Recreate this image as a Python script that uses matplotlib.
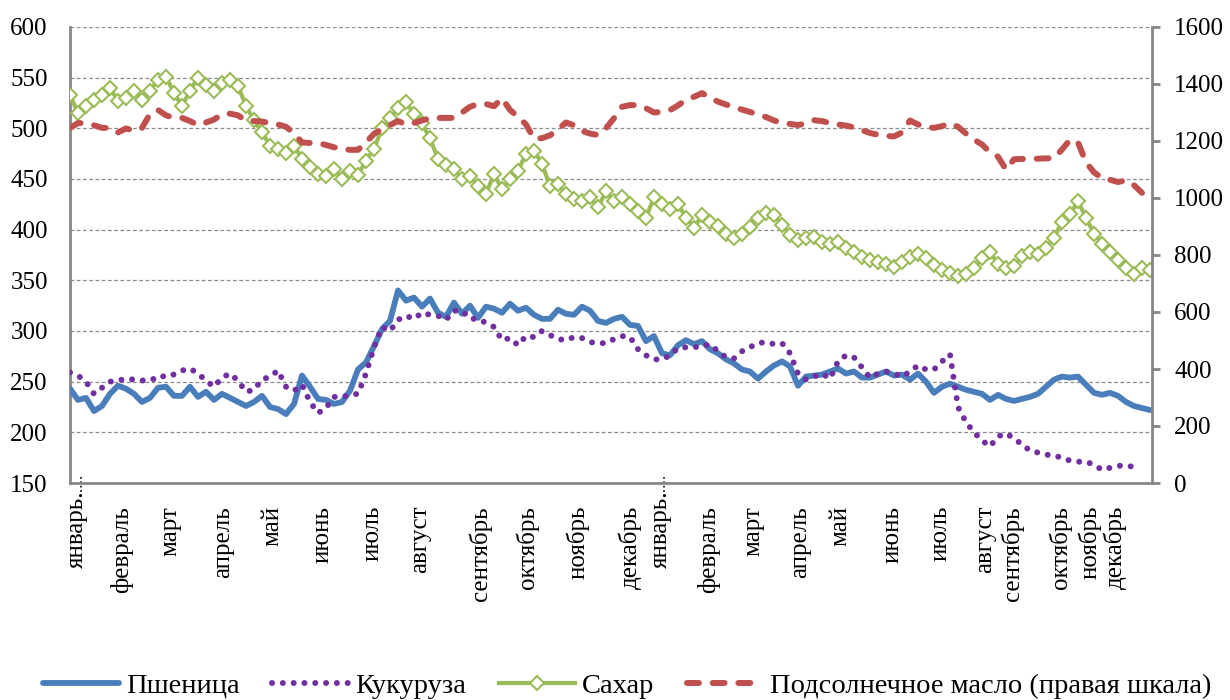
import numpy as np
import matplotlib
matplotlib.use("Agg")
import matplotlib.pyplot as plt

plt.rcParams["font.family"] = ["Liberation Serif", "DejaVu Serif"]

# month labels and the observation index where each one sits
months = ["январь.", "февраль", "март", "апрель", "май", "июнь", "июль", "август",
          "сентябрь", "октябрь", "ноябрь", "декабрь",
          "январь.", "февраль", "март", "апрель", "май", "июнь", "июль", "август",
          "сентябрь", "октябрь", "ноябрь", "декабрь"]
month_pos = [0.9, 6.5, 12.5, 19.1, 25.3, 31.6, 37.8, 43.8, 51.3, 57.1, 63.5, 70.0,
             73.8, 79.8, 85.4, 91.3, 96.3, 102.8, 108.8, 114.4, 117.8, 123.8, 127.5, 130.6]

# left scale
wheat = [243, 232, 234, 221, 226, 238, 246, 243, 238, 230,
         234, 244, 245, 236, 236, 245, 235, 240, 232, 238,
         234, 230, 226, 230, 236, 225, 223, 218, 228, 256,
         245, 233, 232, 228, 230, 241, 262, 269, 285, 302,
         310, 340, 330, 333, 324, 332, 318, 314, 328, 317,
         325, 313, 324, 322, 318, 327, 320, 323, 316, 312,
         312, 321, 317, 316, 324, 320, 310, 308, 312, 314,
         306, 305, 290, 295, 278, 276, 286, 291, 287, 290,
         282, 278, 272, 268, 262, 260, 253, 260, 266, 270,
         265, 246, 255, 256, 257, 260, 263, 258, 260, 254,
         254, 257, 260, 256, 257, 252, 258, 250, 239, 245,
         248, 245, 242, 240, 238, 232, 237, 233, 231, 233,
         235, 238, 245, 252, 255, 254, 255, 247, 239, 237,
         239, 236, 230, 226, 224, 222]

corn = [259, 256, 250, 238, 244, 250, 251, 253, 252, 251,
        253, 252, 257, 257, 261, 263, 258, 251, 245, 254,
        258, 251, 240, 242, 252, 255, 261, 245, 241, 247,
        230, 219, 224, 235, 235, 237, 238, 258, 284, 304,
        300, 311, 315, 312, 318, 316, 315, 311, 320, 320,
        312, 312, 308, 304, 291, 293, 286, 295, 294, 300,
        296, 292, 291, 294, 293, 289, 288, 288, 292, 295,
        294, 282, 276, 272, 272, 276, 283, 284, 284, 285,
        287, 280, 274, 273, 280, 284, 288, 289, 287, 288,
        278, 258, 252, 255, 258, 253, 270, 276, 274, 264,
        254, 258, 260, 258, 255, 260, 266, 262, 262, 270,
        277, 225, 210, 200, 192, 186, 196, 199, 194, 188,
        182, 180, 178, 177, 175, 172, 171, 171, 168, 163,
        165, 167, 167, 166]

sugar = [533, 515, 522, 528, 533, 540, 527, 530, 537, 528,
         537, 548, 551, 535, 522, 537, 550, 543, 537, 545,
         548, 542, 522, 508, 496, 483, 480, 476, 483, 470,
         462, 455, 453, 460, 450, 458, 454, 468, 480, 500,
         510, 520, 526, 514, 505, 490, 470, 464, 460, 450,
         453, 443, 435, 455, 440, 450, 458, 475, 478, 465,
         443, 445, 435, 430, 428, 432, 422, 438, 428, 432,
         425, 418, 412, 432, 425, 420, 425, 412, 402, 414,
         408, 404, 396, 392, 396, 403, 412, 416, 414, 405,
         395, 390, 392, 393, 388, 386, 388, 382, 378, 373,
         370, 368, 366, 363, 368, 373, 376, 372, 365, 360,
         357, 354, 356, 362, 372, 378, 366, 362, 364, 374,
         378, 376, 382, 392, 408, 415, 428, 412, 396, 386,
         378, 370, 362, 356, 362, 360]

# right scale
sunflower_oil = [1246, 1263, 1262, 1255, 1246, 1246, 1230, 1244, 1236, 1246,
                 1295, 1309, 1290, 1281, 1281, 1270, 1256, 1265, 1275, 1294,
                 1296, 1290, 1271, 1270, 1268, 1263, 1258, 1250, 1226, 1195,
                 1193, 1193, 1186, 1178, 1172, 1169, 1169, 1195, 1225, 1242,
                 1256, 1270, 1258, 1263, 1272, 1280, 1281, 1281, 1281, 1300,
                 1320, 1330, 1330, 1322, 1350, 1309, 1285, 1258, 1208, 1210,
                 1220, 1240, 1265, 1255, 1235, 1226, 1221, 1245, 1280, 1320,
                 1326, 1326, 1315, 1300, 1302, 1308, 1325, 1344, 1355, 1368,
                 1352, 1338, 1328, 1319, 1310, 1302, 1292, 1284, 1272, 1263,
                 1260, 1256, 1262, 1273, 1270, 1263, 1258, 1254, 1248, 1238,
                 1228, 1222, 1218, 1216, 1230, 1272, 1258, 1248, 1246, 1252,
                 1262, 1250, 1226, 1205, 1188, 1160, 1145, 1100, 1136, 1137,
                 1137, 1138, 1139, 1140, 1170, 1204, 1195, 1125, 1090, 1070,
                 1064, 1056, 1062, 1045, 1018]

series_names = ["Пшеница", "Кукуруза", "Сахар", "Подсолнечное масло (правая шкала)"]

BLUE = "#4A7EBB"
PURPLE = "#7030A0"
GREEN = "#9BBB59"
RED = "#C0504D"
AXIS_GREY = "#868686"

fig = plt.figure(figsize=(12.3, 7), dpi=100)
ax = fig.add_axes([70 / 1230, 217 / 700, 1082 / 1230, 456 / 700])
ax2 = ax.twinx()

l_wheat, = ax.plot(np.arange(len(wheat)), wheat, color=BLUE, lw=4.2,
                   solid_capstyle="round", solid_joinstyle="round",
                   label=series_names[0], zorder=3)
l_corn, = ax.plot(np.arange(len(corn)), corn, color=PURPLE, lw=4.3,
                  linestyle=(0, (0.01, 1.8)), dash_capstyle="round",
                  label=series_names[1], zorder=3)
l_sugar, = ax.plot(np.arange(len(sugar)), sugar, color=GREEN, lw=3,
                   marker="D", ms=7.5, mfc="white", mec=GREEN, mew=1.5,
                   label=series_names[2], zorder=4)
l_oil, = ax2.plot(np.arange(len(sunflower_oil)), sunflower_oil, color=RED, lw=4.3,
                  linestyle=(0, (2, 2.3)), dash_capstyle="round",
                  label=series_names[3])

ax.set_xlim(0, 135.25)
ax.set_ylim(150, 600)
ax.set_yticks(np.arange(150, 601, 50))
ax2.set_ylim(0, 1600)
ax2.set_yticks(np.arange(0, 1601, 200))

ax.grid(axis="y", linestyle=(0, (3, 2)), color="#8c8c8c", lw=0.9)
ax.set_axisbelow(True)
ax.set_xticks([])

for a in (ax, ax2):
    a.spines["top"].set_visible(False)
ax.spines["right"].set_visible(False)
ax2.spines["left"].set_visible(False)
ax2.spines["bottom"].set_visible(False)
for sp in (ax.spines["left"], ax.spines["bottom"], ax2.spines["right"]):
    sp.set_color(AXIS_GREY)
    sp.set_linewidth(2)

ax.tick_params(axis="y", length=0, pad=16, labelsize=18)
ax2.tick_params(axis="y", direction="out", length=6, width=2, color=AXIS_GREY,
                pad=10, labelsize=18)

# month labels below the axis
xt = ax.get_xaxis_transform()
for lab, p in zip(months, month_pos):
    y_top = -0.0175 if lab.startswith("январь") else -0.0504
    ax.text(p, y_top, lab, transform=xt, rotation=90, ha="center", va="top", fontsize=18)
    if lab.startswith("январь"):
        ax.plot([p + 0.5, p + 0.5], [0.013, -0.03], transform=xt, ls=":",
                color="black", lw=1.2, clip_on=False)

fig.legend([l_wheat, l_corn, l_sugar, l_oil], series_names, loc="center",
           bbox_to_anchor=(0.51, 0.02), ncol=4, frameon=False, fontsize=20.5,
           handlelength=2.67, handletextpad=0.25, columnspacing=1.15)

fig.savefig("out.png", dpi=100)
